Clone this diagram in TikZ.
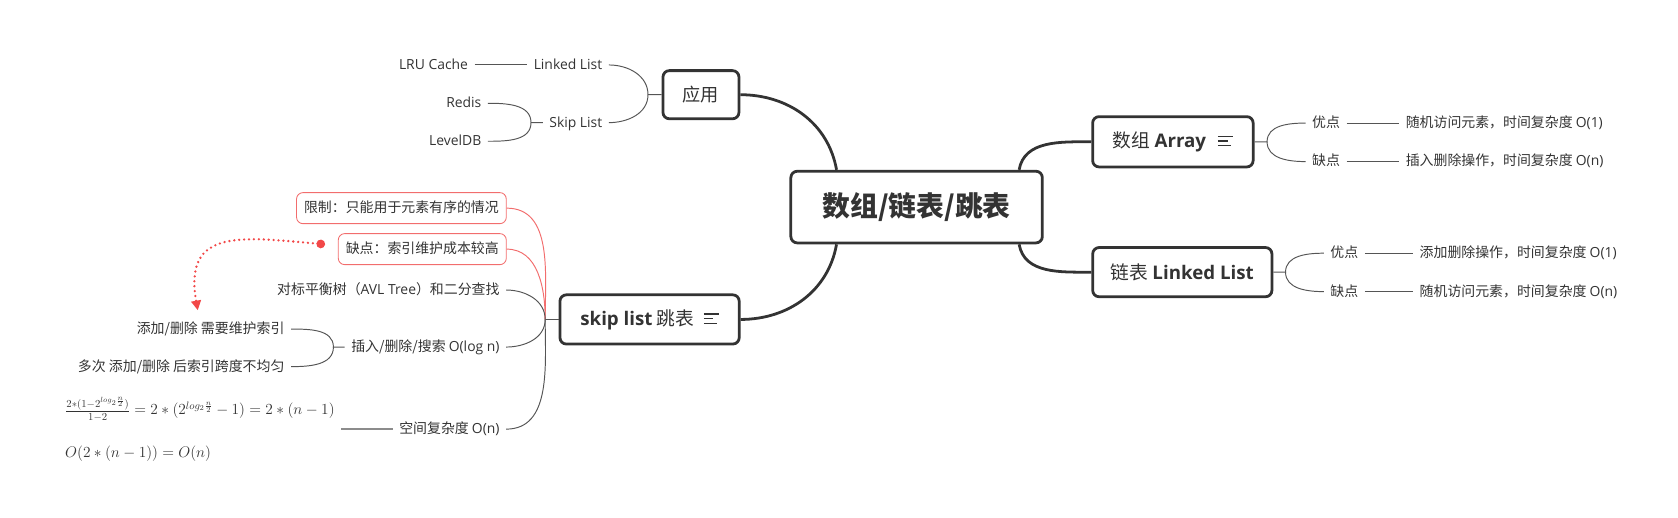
\documentclass[tikz,border=0pt]{standalone}
\usepackage{fontspec}
\setmainfont{Noto Sans CJK SC}
\newfontfamily\latinfont{Open Sans}
\usetikzlibrary{positioning,arrows.meta}
\definecolor{ink}{HTML}{333333}
\definecolor{twigink}{HTML}{555555}
\definecolor{warn}{HTML}{F26D6D}
\definecolor{warndot}{HTML}{F24848}
\definecolor{rulegray}{HTML}{8C8C8C}
\newcommand\lat[1]{{\latinfont #1}}
\newcommand\noteicon{\raisebox{1.2pt}{\vbox{\hrule width 14pt height 1.1pt\vskip 3.2pt
  \hrule width 9pt height 1.1pt\vskip 3.2pt\hrule width 12pt height 1.1pt}}}

\begin{document}
\begin{tikzpicture}[
  x=1pt,y=1pt,
  every node/.style={text=ink},
  root/.style={
    draw=ink,
    line width=2.6pt,
    rounded corners=6pt,
    fill=white,
    minimum width=235pt,
    minimum height=67pt,
    font=\fontsize{26}{30}\selectfont\bfseries,
  },
  topic/.style={
    draw=ink,
    line width=2.6pt,
    rounded corners=6pt,
    fill=white,
    minimum height=46pt,
    font=\fontsize{17.5}{21}\selectfont,
  },
  leaf/.style={
    inner xsep=6pt,
    inner ysep=3pt,
    text height=11.5pt,
    text depth=3.3pt,
    font=\fontsize{13}{16}\selectfont,
  },
  warnbox/.style={
    leaf,
    draw=warn,
    line width=0.8pt,
    rounded corners=6pt,
    inner xsep=7pt,
    minimum height=29pt,
  },
  trunk/.style={draw=ink,line width=2.6pt},
  twig/.style={draw=twigink,line width=0.9pt},
  warntwig/.style={draw=warn,line width=0.9pt},
  ]
  \useasboundingbox (0,0) rectangle (1568,-484);

  % main topics
  \node[root] (root) at (856.5,-193.5) {数组/链表/跳表};
  \node[topic,minimum width=71pt,minimum height=45pt,font=\fontsize{17}{20}\selectfont]
    (app) at (655,-88.5) {应用};
  \node[topic,minimum width=150pt,minimum height=47pt]
    (arr) at (1096,-132.5) {数组 \lat{\bfseries Array}\hspace{11pt}\noteicon};
  \node[topic,minimum width=167.5pt]
    (ll) at (1104.8,-254.3) {链表 \lat{\bfseries Linked List}};
  \node[topic,minimum width=167.5pt]
    (skip) at (607,-298.5) {\lat{\bfseries skip list} 跳表\hspace{9pt}\noteicon};

  \draw[trunk] ([xshift=44pt]root.north west) to[out=100,in=0] (app.east);
  \draw[trunk] ([xshift=44pt]root.south west) to[out=-100,in=0] (skip.east);
  \draw[trunk] ([xshift=-23pt]root.north east) to[out=80,in=180] (arr.west);
  \draw[trunk] ([xshift=-23pt]root.south east) to[out=-80,in=180] (ll.west);

  % array
  \foreach \key/\val/\y [count=\i] in
  {优点/随机访问元素，时间复杂度 \lat{O(1)}/-115,缺点/插入删除操作，时间复杂度 \lat{O(n)}/-151}
  {
    \node[leaf,anchor=west] (arrk\i) at (1220,\y) {\key};
    \node[leaf,right=49pt of arrk\i] (arrv\i) {\val};
    \draw[twig] (arrk\i) -- (arrv\i);
  }
  \coordinate (arrj) at ([xshift=11.7pt]arr.east);
  \draw[twig] (arr.east) -- (arrj) to[out=90,in=180] (arrk1.west);
  \draw[twig] (arrj) to[out=-90,in=180] (arrk2.west);

  % linked list
  \foreach \key/\val/\y [count=\i] in
  {优点/添加删除操作，时间复杂度 \lat{O(1)}/-236.6,缺点/随机访问元素，时间复杂度 \lat{O(n)}/-272.5}
  {
    \node[leaf,anchor=west] (llk\i) at (1237,\y) {\key};
    \node[leaf,right=45pt of llk\i] (llv\i) {\val};
    \draw[twig] (llk\i) -- (llv\i);
  }
  \coordinate (llj) at ([xshift=11.4pt]ll.east);
  \draw[twig] (ll.east) -- (llj) to[out=90,in=180] (llk1.west);
  \draw[twig] (llj) to[out=-90,in=180] (llk2.west);

  % applications
  \node[leaf,anchor=east] (appll) at (569,-60.7) {\lat{Linked List}};
  \node[leaf,left=49pt of appll] (lru) {\lat{LRU Cache}};
  \draw[twig] (lru) -- (appll);
  \node[leaf,anchor=east] (appsl) at (569,-114.6) {\lat{Skip List}};
  \node[leaf,anchor=east] (redis) at (456,-96.5) {\lat{Redis}};
  \node[leaf,anchor=east] (leveldb) at (456,-132) {\lat{LevelDB}};
  \coordinate (appj) at ([xshift=-12.7pt]app.west);
  \draw[twig] (app.west) -- (appj) to[out=90,in=0] (appll.east);
  \draw[twig] (appj) to[out=-90,in=0] (appsl.east);
  \coordinate (slj) at ([xshift=-11pt]appsl.west);
  \draw[twig] (appsl.west) -- (slj) to[out=90,in=0] (redis.east);
  \draw[twig] (slj) to[out=-90,in=0] (leveldb.east);

  % skip list
  \node[warnbox,anchor=east] (limit) at (473.5,-194.5) {限制：只能用于元素有序的情况};
  \node[warnbox,anchor=east] (cost) at (473.5,-232.8) {缺点：索引维护成本较高};
  \node[leaf,anchor=east] (bench) at (473,-271) {对标平衡树（\lat{AVL Tree}）和二分查找};
  \node[leaf,anchor=east] (ops) at (473,-324.3) {插入/删除/搜索 \lat{O(log n)}};
  \node[leaf,anchor=east] (space) at (473,-401) {空间复杂度 \lat{O(n)}};
  \coordinate (skj) at ([xshift=-12.5pt]skip.west);
  \draw[twig] (skip.west) -- (skj);
  \draw[warntwig] (skj) to[out=90,in=0] (limit.east);
  \draw[warntwig] (skj) to[out=90,in=0] (cost.east);
  \draw[twig] (skj) to[out=90,in=0] (bench.east);
  \draw[twig] (skj) to[out=-90,in=0] (ops.east);
  \draw[twig] (skj) to[out=-90,in=0] (space.east);

  \node[leaf,anchor=east] (addidx) at (272,-307.5) {添加/删除 需要维护索引};
  \node[leaf,anchor=east] (skew) at (272,-342.6) {多次 添加/删除 后索引跨度不均匀};
  \coordinate (opj) at ([xshift=-10.5pt]ops.west);
  \draw[twig] (ops.west) -- (opj) to[out=90,in=0] (addidx.east);
  \draw[twig] (opj) to[out=-90,in=0] (skew.east);

  \node[align=left,inner sep=6pt,font=\fontsize{14}{40}\selectfont,left=48pt of space] (formula)
    {$\frac{2*(1-2^{log_2\frac{n}{2}})}{1-2}=2*(2^{log_2\frac{n}{2}}-1)=2*(n-1)$\\
     $O(2*(n-1))=O(n)$};
  \draw[draw=rulegray,line width=1.6pt] (formula) -- (space);

  \draw[warndot,line width=2.4pt,dash pattern=on 0pt off 4.6pt,line cap=round,
    {Circle[length=8pt]}-{Triangle[length=9pt,width=9pt]}]
    ([shift={(-12pt,4.5pt)}]cost.west) to[out=175,in=100,looseness=1.5]
    ([shift={(-12pt,7pt)}]addidx.north);
\end{tikzpicture}
\end{document}
